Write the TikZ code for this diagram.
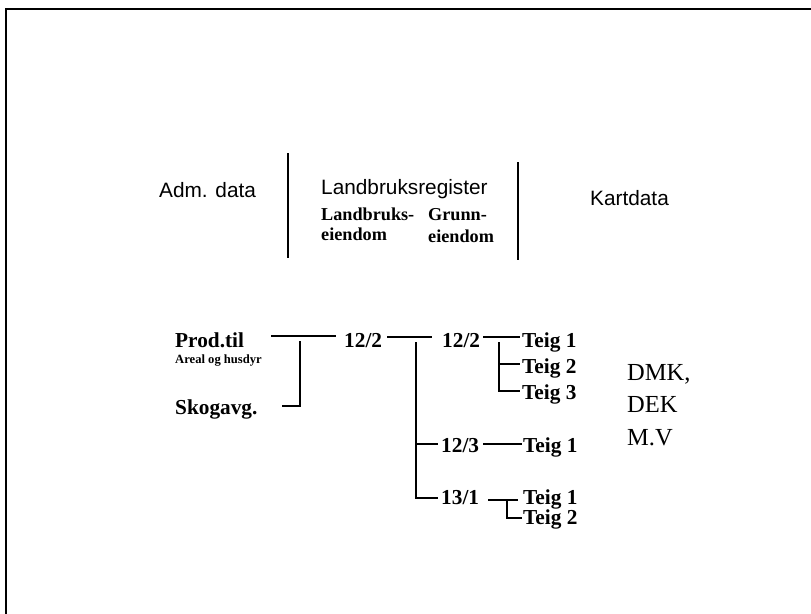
\documentclass[tikz,border=0pt]{standalone}
\usepackage{fontspec}
\setmainfont{Liberation Serif}
\newfontfamily\arialfont{Liberation Sans}
\usepackage{tikz}
\usetikzlibrary{calc}

\tikzset{
  txt/.style={inner sep=0pt, anchor=base west},
  head/.style={txt, font=\arialfont\fontsize{20.8}{24}\selectfont},
  sub/.style={txt, font=\bfseries\fontsize{18.2}{21}\selectfont},
  item/.style={txt, font=\bfseries\fontsize{21.3}{24}\selectfont},
  note/.style={txt, font=\bfseries\fontsize{12.6}{15}\selectfont},
  kart/.style={txt, font=\fontsize{24.5}{28}\selectfont},
  tree/.style={line width=1.5pt}
}

\begin{document}
\begin{tikzpicture}[x=1pt,y=-1pt]
    \useasboundingbox (0,0) rectangle (811,613);
    \draw [line width=2.4pt] (6,620) -- (6,9) -- (820,9);
    % header
    \node [head] (adm) at (159,197) {Adm. data};
    \node [head] (lreg) at (321,194) {Landbruksregister};
    \node [head] (kart) at (590,205) {Kartdata};
    \node [sub] (le1) at (321,220) {Landbruks-};
    \node [sub] (le2) at (321,240) {eiendom};
    \node [sub] (ge1) at (428,220) {Grunn-};
    \node [sub] (ge2) at (428,242) {eiendom};
    \coordinate (s1t) at (288,153);
    \coordinate (s1b) at (288,258);
    \coordinate (s2t) at (518,162);
    \coordinate (s2b) at (518,260);
    \draw [tree] (s1t) -- (s1b);
    \draw [tree] (s2t) -- (s2b);
    % tree
    \node [item] (prod) at (175,347) {Prod.til};
    \node [note] (areal) at (175,363) {Areal og husdyr};
    \node [item] (skog) at (175,414) {Skogavg.};
    \node [item] (le) at (344,347) {12/2};
    \node [item] (g1) at (442,347) {12/2};
    \node [item] (g2) at (441,452) {12/3};
    \node [item] (g3) at (441,504) {13/1};
    \node [item] (t11) at (522,347) {Teig 1};
    \node [item] (t12) at (522,373) {Teig 2};
    \node [item] (t13) at (522,399) {Teig 3};
    \node [item] (t21) at (523,452) {Teig 1};
    \node [item] (t31) at (523,504) {Teig 1};
    \node [item] (t32) at (523,524) {Teig 2};
    \node [kart] (dmk) at (627,380) {DMK,};
    \node [kart] (dek) at (627,412) {DEK};
    \node [kart] (mv) at (627,445) {M.V};
    % joints
    \coordinate (a1) at (271,336);
    \coordinate (a2) at (336,336);
    \coordinate (b1) at (300,341);
    \coordinate (b2) at (282,406);
    \coordinate (c1) at (387,337);
    \coordinate (c2) at (432,337);
    \coordinate (d1) at (416,342);
    \coordinate (d2) at (438,498);
    \coordinate (d3) at (438,444);
    \coordinate (e1) at (483,337);
    \coordinate (e2) at (520,337);
    \coordinate (f1) at (499,342);
    \coordinate (f2) at (520,364);
    \coordinate (f3) at (520,391);
    \coordinate (h1) at (483,444);
    \coordinate (h2) at (522,444);
    \coordinate (k1) at (488,500);
    \coordinate (k2) at (518,500);
    \coordinate (k3) at (507,500);
    \coordinate (k4) at (522,518);
    \draw [tree] (a1) -- (a2);
    \draw [tree] (b1) |- (b2);
    \draw [tree] (c1) -- (c2);
    \draw [tree] (d1) |- (d2);
    \draw [tree] (d1 |- d3) -- (d3);
    \draw [tree] (e1) -- (e2);
    \draw [tree] (f1) |- (f3);
    \draw [tree] (f1 |- f2) -- (f2);
    \draw [tree] (h1) -- (h2);
    \draw [tree] (k1) -- (k2);
    \draw [tree] (k3) |- (k4);
\end{tikzpicture}
\end{document}
